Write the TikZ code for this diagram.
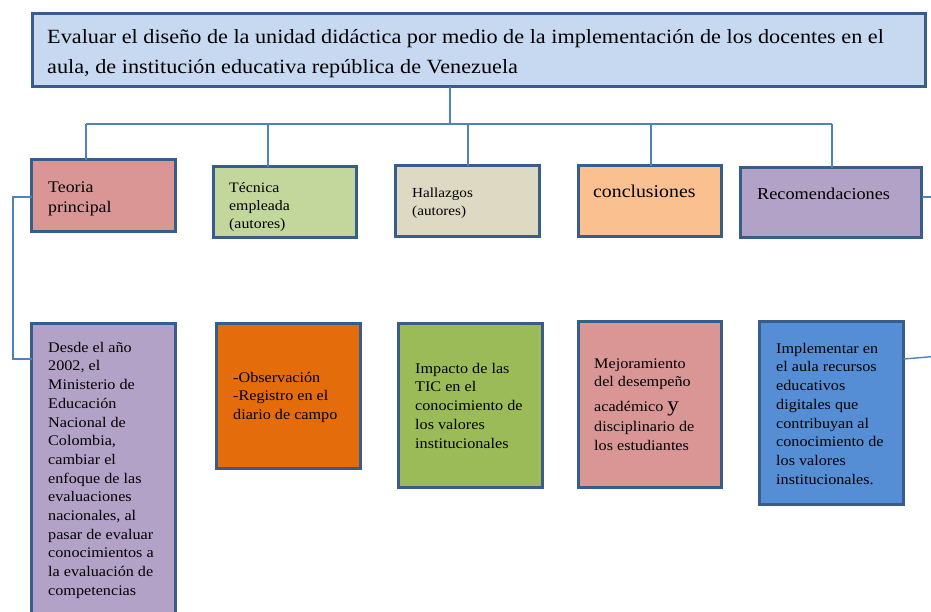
\documentclass[tikz,border=0pt]{standalone}
\usepackage{fontspec}
\setmainfont{Liberation Serif}[FakeStretch=1.1]
\definecolor{topfill}{HTML}{C6D9F1}
\definecolor{bordercol}{HTML}{385D8A}
\definecolor{conncol}{HTML}{4F81BD}
\definecolor{teoriafill}{HTML}{D99694}
\definecolor{tecfill}{HTML}{C3D69B}
\definecolor{halfill}{HTML}{DDD9C3}
\definecolor{confill}{HTML}{FAC090}
\definecolor{recfill}{HTML}{B3A2C7}
\definecolor{obsfill}{HTML}{E46C0A}
\definecolor{impfill}{HTML}{9BBB59}
\definecolor{implfill}{HTML}{558ED5}
% box: name, fill, x1, y1, x2, y2 (outer edges, px)
\newcommand\bx[6]{\node[box,fill=#2,minimum width={#5-#3-3},minimum height={#6-#4-3}] (#1) at ({(#3+#5)/2},{(#4+#6)/2}) {};}
% text: name, x, first baseline, size, skip, text
\newcommand\tb[6]{\node[txt,font=\fontsize{#4}{#5}\selectfont] (#1) at (#2,{#3-20}) {\rule{0pt}{20pt}#6};}
\begin{document}
\begin{tikzpicture}[x=1pt,y=-1pt,
  box/.style={draw=bordercol,line width=3pt,rectangle,inner sep=0pt,outer sep=0pt},
  conn/.style={draw=conncol,line width=1.4pt},
  txt/.style={inner sep=0pt,anchor=north west,align=left,text=black}]
\useasboundingbox (0,0) rectangle (931,611);
\clip (0,0) rectangle (931,611);
% connector coordinates
\coordinate (j) at (450,124);
\coordinate (d1) at (86,124);
\coordinate (d2) at (268,124);
\coordinate (d3) at (468,124);
\coordinate (d4) at (651,124);
\coordinate (d5) at (832,124);
\coordinate (l1) at (13,197);
\coordinate (l2) at (13,359);
\coordinate (r1) at (940,197);
\coordinate (r2) at (940,356);
% boxes
\bx{top}{topfill}{31}{12}{927}{88}
\bx{teoria}{teoriafill}{30}{158}{177}{233}
\bx{tecnica}{tecfill}{212}{165}{358}{239}
\bx{hallazgos}{halfill}{394}{164}{541}{238}
\bx{concl}{confill}{577}{164}{723}{238}
\bx{recom}{recfill}{739}{166}{923}{239}
\bx{desde}{recfill}{30}{322}{177}{640}
\bx{obs}{obsfill}{215}{322}{362}{470}
\bx{impacto}{impfill}{397}{322}{544}{489}
\bx{mejora}{teoriafill}{577}{320}{723}{489}
\bx{implem}{implfill}{758}{320}{905}{506}
% connectors
\draw[conn] (j |- top.south) -- (j);
\draw[conn] (d1) -- (d5);
\draw[conn] (d1) -- (d1 |- teoria.north);
\draw[conn] (d2) -- (d2 |- tecnica.north);
\draw[conn] (d3) -- (d3 |- hallazgos.north);
\draw[conn] (d4) -- (d4 |- concl.north);
\draw[conn] (d5) -- (d5 |- recom.north);
\draw[conn] (teoria.west |- l1) -- (l1) -- (l2) -- (desde.west |- l2);
\draw[conn] (recom.east |- r1) -- (r1);
\draw[conn] (implem.east |- 0,359) -- (r2);
% texts
\tb{ttop}{47}{43.5}{20.2}{29.5}{Evaluar el diseño de la unidad didáctica por medio de la implementación de los docentes en el\\aula, de institución educativa república de Venezuela}
\tb{tteoria}{48}{192}{16.2}{20.5}{Teoria\\principal}
\tb{ttecnica}{229}{192}{14.4}{18}{Técnica\\empleada\\(autores)}
\tb{thallazgos}{412}{197}{13.8}{18.5}{Hallazgos\\(autores)}
\tb{tconcl}{593}{197}{18}{20}{conclusiones}
\tb{trecom}{757}{199}{16.6}{20}{Recomendaciones}
\tb{tdesde}{48}{352}{14.7}{18.7}{Desde el año\\2002, el\\Ministerio de\\Educación\\Nacional de\\Colombia,\\cambiar el\\enfoque de las\\evaluaciones\\nacionales, al\\pasar de evaluar\\conocimientos a\\la evaluación de\\competencias}
\tb{tobs}{233}{382}{14.7}{18.7}{-Observación\\-Registro en el\\diario de campo}
\tb{timpacto}{415}{373}{14.7}{18.7}{Impacto de las\\TIC en el\\conocimiento de\\los valores\\institucionales}
\tb{tmejora}{594}{368}{14.7}{18.7}{Mejoramiento\\del desempeño\\[6pt]académico {\fontsize{21}{21}\selectfont y}\\[1pt]disciplinario de\\los estudiantes}
\tb{timplem}{776}{353}{14.7}{18.7}{Implementar en\\el aula recursos\\educativos\\digitales que\\contribuyan al\\conocimiento de\\los valores\\institucionales.}
\end{tikzpicture}
\end{document}
